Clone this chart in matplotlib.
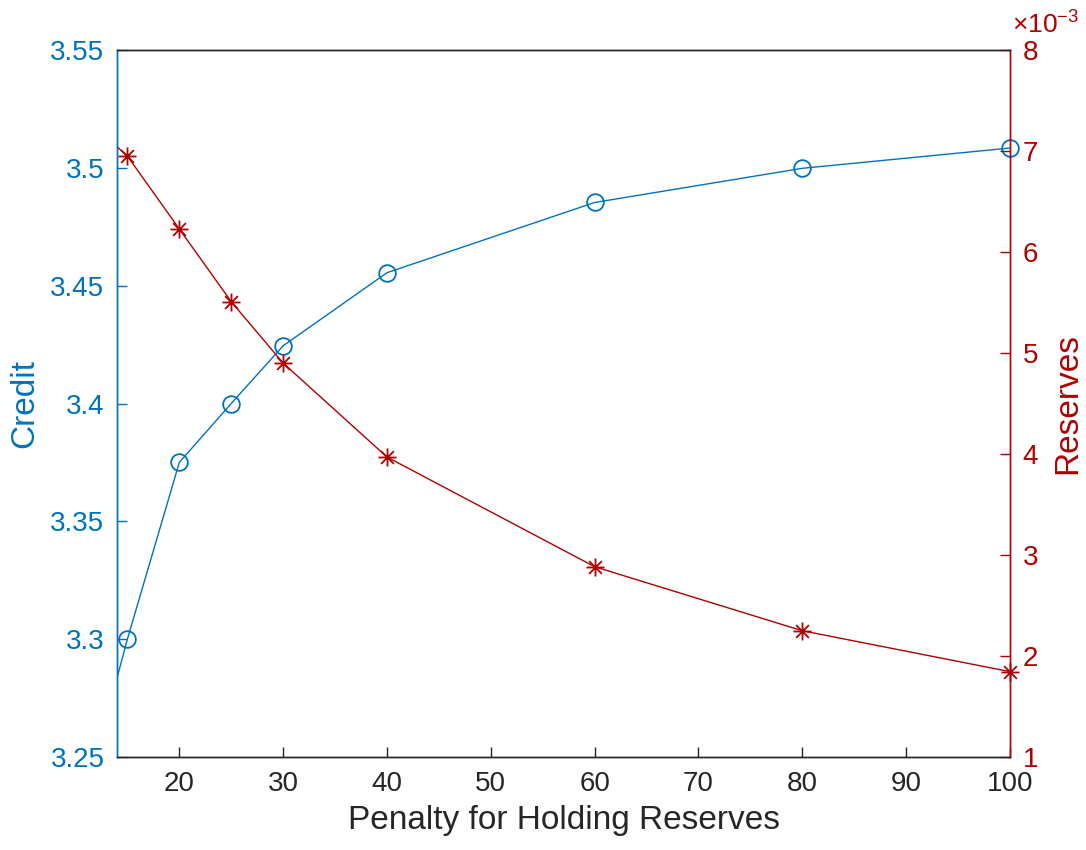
import numpy as np
import matplotlib
matplotlib.use("Agg")
import matplotlib.pyplot as plt
from matplotlib.path import Path
from matplotlib.ticker import FuncFormatter

plt.rcParams['font.family'] = ['Liberation Sans', 'DejaVu Sans']
plt.rcParams['mathtext.default'] = 'regular'

# penalty levels and the two responses
penalty = [10, 15, 20, 25, 30, 40, 60, 80, 100]
credit = [3.2175, 3.300, 3.375, 3.400, 3.4245, 3.4555, 3.4853, 3.4998, 3.5084]
reserves = [7.41e-3, 6.95e-3, 6.228e-3, 5.508e-3, 4.90e-3, 3.97e-3, 2.884e-3, 2.25e-3, 1.845e-3]

x_ticks = [20, 30, 40, 50, 60, 70, 80, 90, 100]
credit_ticks = [3.25, 3.3, 3.35, 3.4, 3.45, 3.5, 3.55]
reserve_ticks = [1e-3, 2e-3, 3e-3, 4e-3, 5e-3, 6e-3, 7e-3, 8e-3]

blue = '#0072BD'
red = '#B00000'
dark = '#262626'

# asterisk marker: plus and cross overlaid
s = 0.7071
asterisk = Path([(-1, 0), (1, 0), (0, -1), (0, 1), (-s, -s), (s, s), (-s, s), (s, -s)],
                [Path.MOVETO, Path.LINETO] * 4)

fig = plt.figure(figsize=(10.86, 8.5), dpi=100)
ax = fig.add_axes([117/1086, 1 - 757/850, (1010-117)/1086, (757-50)/850])
ax2 = ax.twinx()

# lines are clipped at the axes box, markers at the edges stay whole
ax.plot(penalty, credit, color=blue, lw=1.0)
ax.plot(penalty, credit, ls='none', marker='o', ms=12, mfc='none', mec=blue,
        mew=1.3, markevery=slice(1, None), clip_on=False)
ax2.plot(penalty, reserves, color=red, lw=1.0)
ax2.plot(penalty, reserves, ls='none', marker=asterisk, ms=13, mfc='none',
         mec=red, mew=1.3, markevery=slice(1, None), clip_on=False)

ax.set_xlim(14, 100)
ax.set_ylim(3.25, 3.55)
ax2.set_ylim(1e-3, 8e-3)

ax.set_xticks(x_ticks)
ax.set_yticks(credit_ticks)
ax2.set_yticks(reserve_ticks)
ax.yaxis.set_major_formatter(FuncFormatter(lambda v, p: f"{v:g}"))
ax2.yaxis.set_major_formatter(FuncFormatter(lambda v, p: f"{v*1e3:g}"))

ax.tick_params(axis='x', direction='in', length=7, width=1, colors=dark,
               labelsize=20, pad=10)
ax.tick_params(axis='y', direction='in', length=7, width=1, colors=blue,
               labelsize=20, pad=9)
ax2.tick_params(axis='y', direction='in', length=7, width=1, colors=red,
                labelsize=20, pad=9)

for a in (ax, ax2):
    a.spines['top'].set_color(dark)
    a.spines['bottom'].set_color(dark)
    a.spines['left'].set_color(blue)
    a.spines['right'].set_color(red)
    for sp in a.spines.values():
        sp.set_linewidth(1.0)

ax.set_xlabel('Penalty for Holding Reserves', fontsize=24, color=dark, labelpad=6)
ax.set_ylabel('Credit', fontsize=24, color=blue, labelpad=7)
ax2.set_ylabel('Reserves', fontsize=24, color=red, labelpad=10)

# exponent label for the right axis
ax2.text(1.002, 1.016, r'$\times10^{-3}$', transform=ax2.transAxes,
         fontsize=19, color=red, ha='left', va='bottom')

fig.savefig('out.png', dpi=100)
